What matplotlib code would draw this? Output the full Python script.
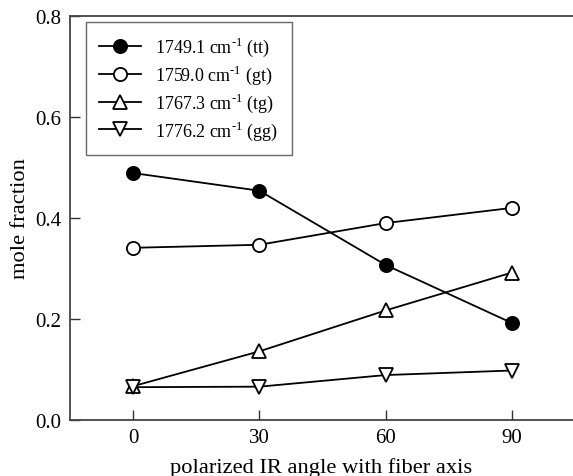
import matplotlib
matplotlib.use("Agg")
import matplotlib.pyplot as plt

angles = [0, 30, 60, 90]
tt = [0.489, 0.454, 0.307, 0.192]
gt = [0.341, 0.347, 0.390, 0.420]
tg = [0.067, 0.136, 0.217, 0.292]
gg = [0.065, 0.066, 0.089, 0.098]
labels = [r"1749.1 cm$^{\text{-}1}$ (tt)", r"1759.0 cm$^{\text{-}1}$ (gt)",
          r"1767.3 cm$^{\text{-}1}$ (tg)", r"1776.2 cm$^{\text{-}1}$ (gg)"]
xticks = [0, 30, 60, 90]
yticks = [0.0, 0.2, 0.4, 0.6, 0.8]

plt.rcParams['font.family'] = ['Liberation Serif', 'DejaVu Serif']
plt.rcParams['mathtext.fontset'] = 'custom'
plt.rcParams['mathtext.rm'] = 'Liberation Serif'

fig = plt.figure(figsize=(5.73, 4.77), dpi=100)
ax = fig.add_axes([70/573, 1-421/477, 1-70/573, (421-17)/477])

styles = [dict(marker='o', mfc='black'),
          dict(marker='o', mfc='white'),
          dict(marker='^', mfc='white'),
          dict(marker='v', mfc='white')]
for data, lab, st in zip([tt, gt, tg, gg], labels, styles):
    ax.plot(angles, data, color='black', lw=1.3, ms=9.5, mec='black',
            mew=1.3, label=lab, **st)

ax.set_xlim(-15, 104.5)
ax.set_ylim(0, 0.8)
ax.set_xticks(xticks)
ax.set_yticks(yticks)
ax.set_yticklabels([f"{v:.1f}" for v in yticks])
ax.tick_params(direction='in', length=7, width=1, color='#333333', labelsize=15, pad=6)
ax.spines['right'].set_visible(False)
for s in ['left', 'top', 'bottom']:
    ax.spines[s].set_color('#444444')
    ax.spines[s].set_linewidth(1.3)
ax.set_xlabel("polarized IR angle with fiber axis", fontsize=16.2, labelpad=7)
ax.set_ylabel("mole fraction", fontsize=16.2, labelpad=4)

leg = ax.legend(loc='upper left', bbox_to_anchor=(15.7/503, 1-5.7/404),
                fontsize=13, frameon=True, fancybox=False, edgecolor='#444444',
                handlelength=2.3, borderpad=0.75, labelspacing=0.25, handletextpad=0.8,
                borderaxespad=0)
leg.get_frame().set_linewidth(1.0)

fig.savefig("out.png", dpi=100)
